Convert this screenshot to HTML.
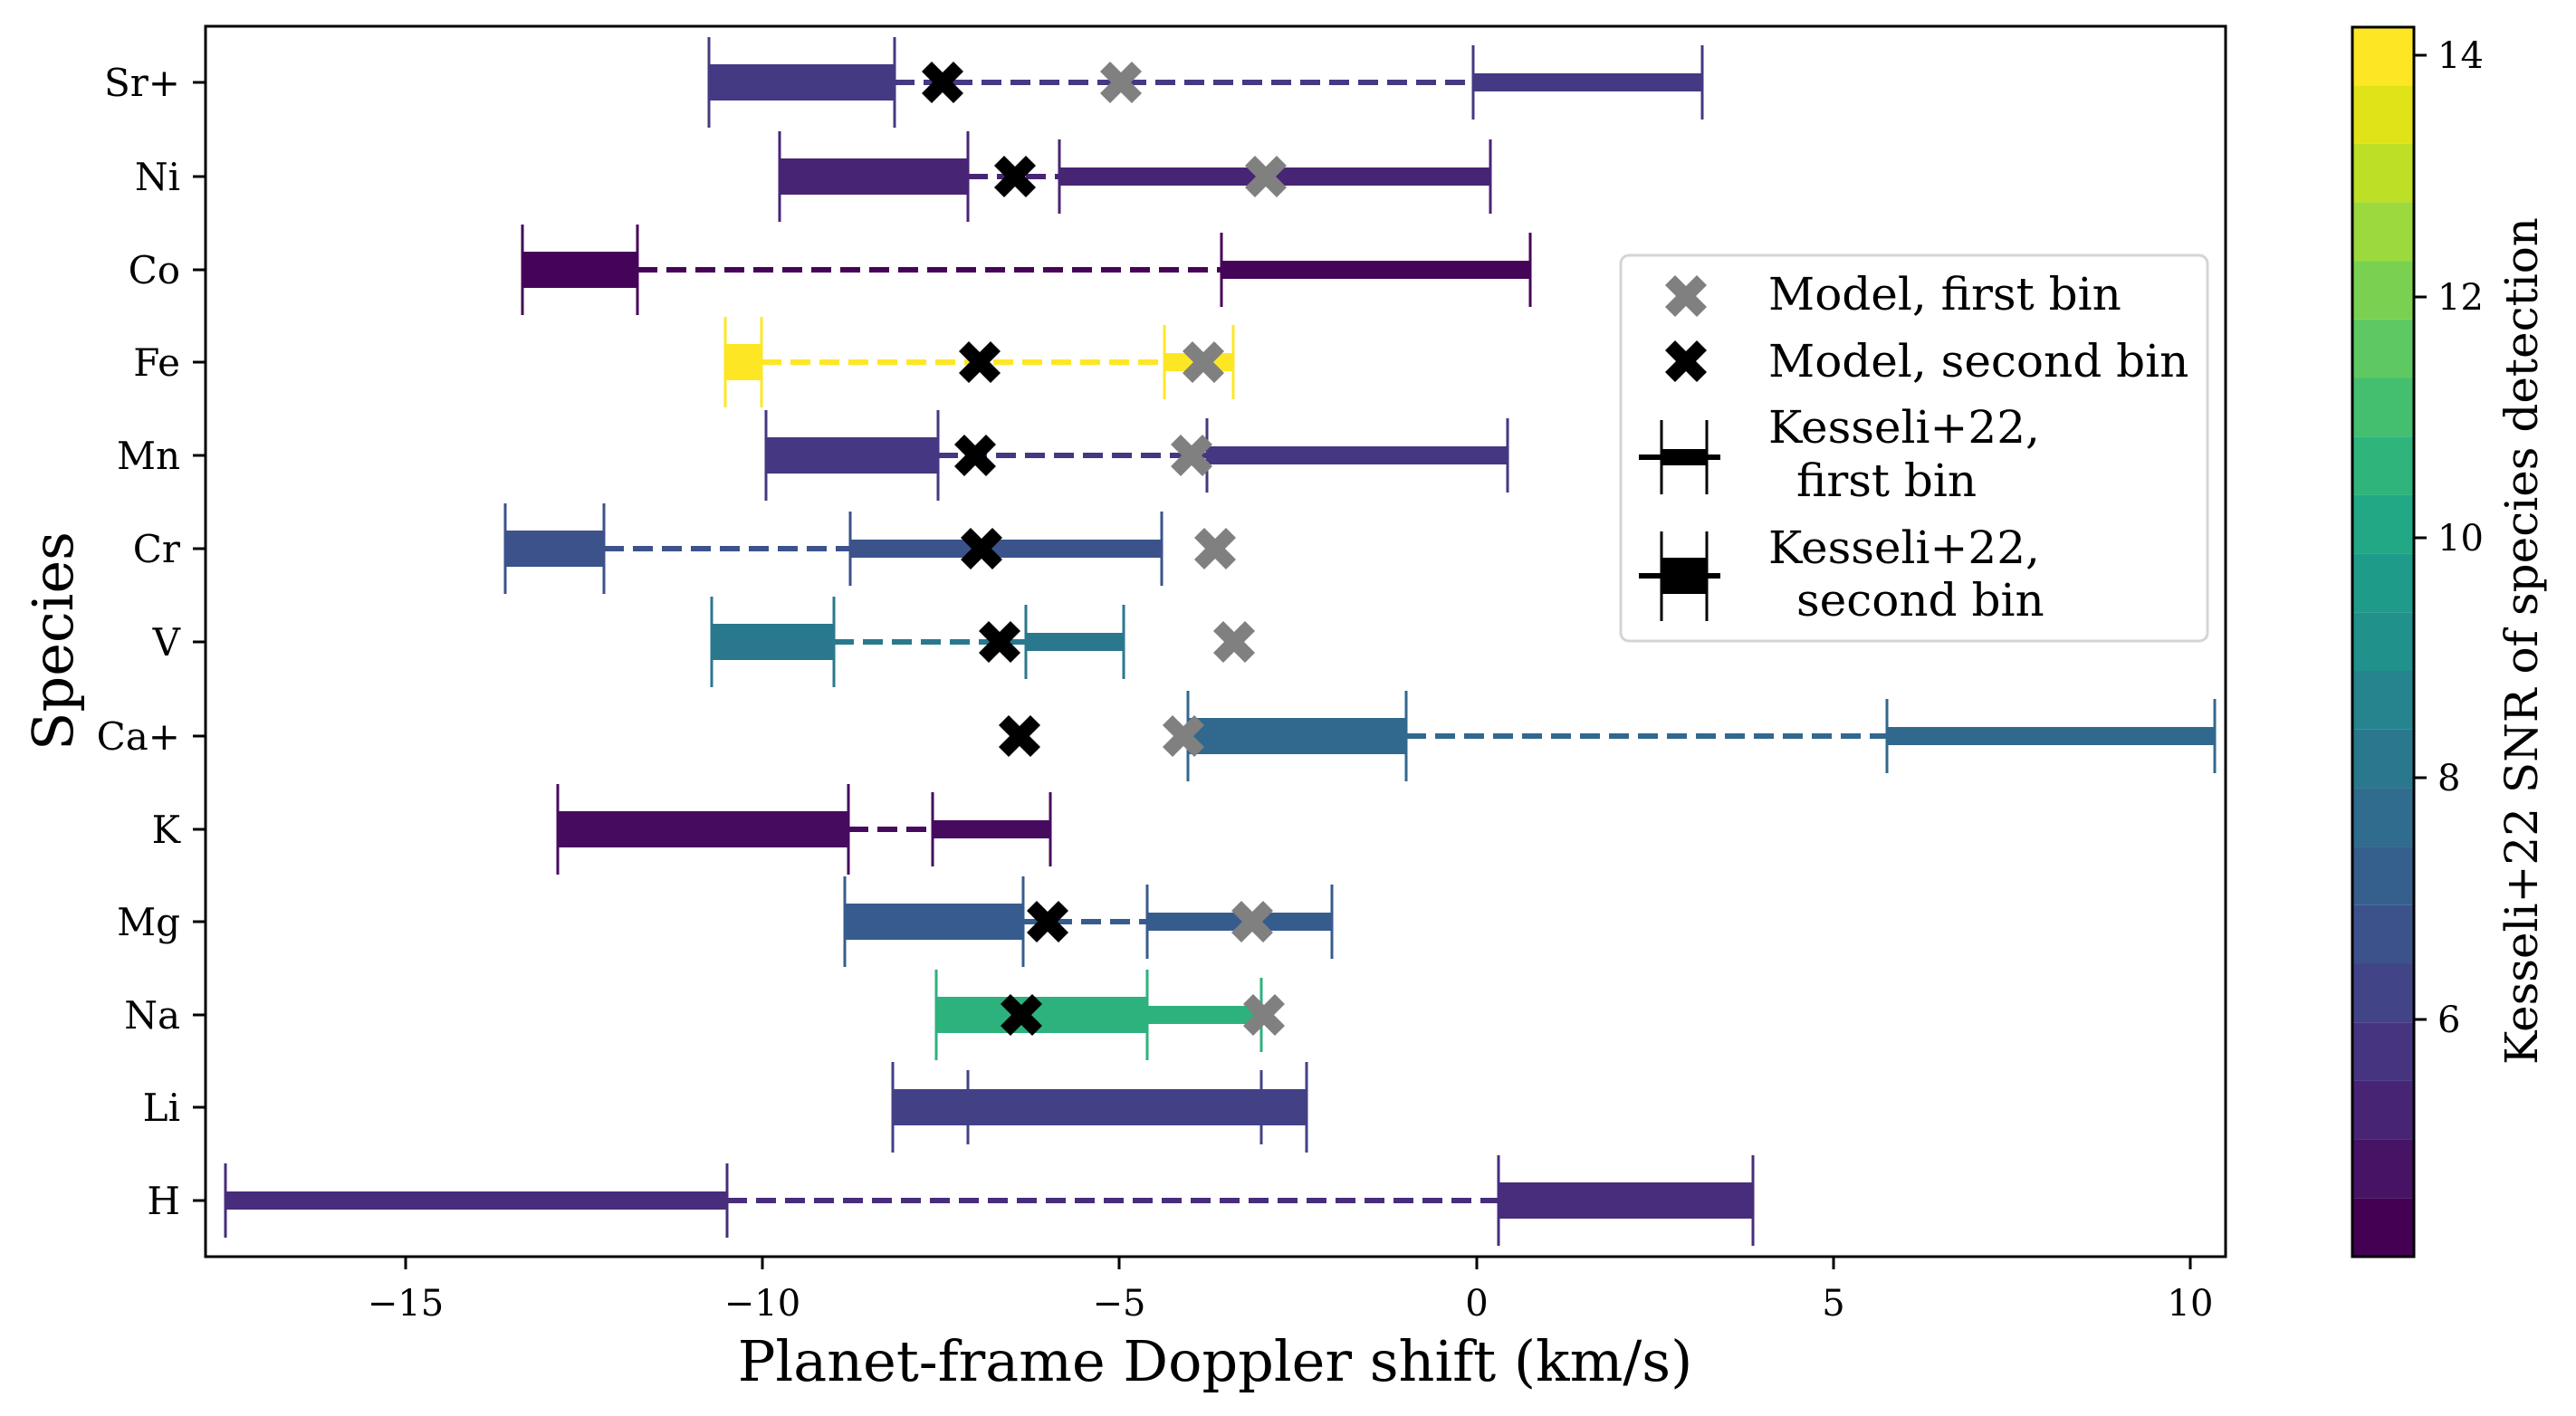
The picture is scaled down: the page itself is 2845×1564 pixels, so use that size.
<!DOCTYPE html>
<html><head><meta charset="utf-8"><style>
html,body{margin:0;padding:0;background:#fff;}
svg{display:block;}
text{font-family:"DejaVu Serif","Liberation Serif",serif;fill:#000;}
</style></head><body>
<svg width="2845" height="1564" viewBox="0 0 2845 1564" xmlns="http://www.w3.org/2000/svg">
<defs>
<path id="X" d="M-23,-12 L-12,-23 L0,-11 L12,-23 L23,-12 L11,0 L23,12 L12,23 L0,11 L-12,23 L-23,12 L-11,0 Z"/>
</defs>
<rect width="2845" height="1564" fill="#fff"/>

<g stroke-width="6" stroke-dasharray="22 10" fill="none">
<line x1="988" y1="91" x2="1627" y2="91" stroke="#443983"/>
<line x1="1069" y1="195" x2="1170" y2="195" stroke="#482475"/>
<line x1="704" y1="298" x2="1349" y2="298" stroke="#450457"/>
<line x1="841" y1="400" x2="1286" y2="400" stroke="#fde725"/>
<line x1="1036" y1="503" x2="1333" y2="503" stroke="#453781"/>
<line x1="667" y1="606" x2="939" y2="606" stroke="#3b528b"/>
<line x1="921" y1="709" x2="1133" y2="709" stroke="#2a788e"/>
<line x1="1553" y1="813" x2="2084" y2="813" stroke="#31688e"/>
<line x1="937" y1="916" x2="1030" y2="916" stroke="#460b5e"/>
<line x1="1130" y1="1018" x2="1267" y2="1018" stroke="#365c8d"/>
<line x1="803" y1="1326" x2="1655" y2="1326" stroke="#472d7b"/>
</g>

<g stroke-width="3">
<g fill="#443983" stroke="#443983">
<rect x="783" y="71" width="205" height="40" stroke="none"/><line x1="783" y1="41" x2="783" y2="141"/><line x1="988" y1="41" x2="988" y2="141"/>
<rect x="1627" y="81" width="253" height="20" stroke="none"/><line x1="1627" y1="50" x2="1627" y2="132"/><line x1="1880" y1="50" x2="1880" y2="132"/>
</g>
<g fill="#482475" stroke="#482475">
<rect x="861" y="175" width="208" height="40" stroke="none"/><line x1="861" y1="145" x2="861" y2="245"/><line x1="1069" y1="145" x2="1069" y2="245"/>
<rect x="1170" y="185" width="476" height="20" stroke="none"/><line x1="1170" y1="154" x2="1170" y2="236"/><line x1="1646" y1="154" x2="1646" y2="236"/>
</g>
<g fill="#450457" stroke="#450457">
<rect x="577" y="278" width="127" height="40" stroke="none"/><line x1="577" y1="248" x2="577" y2="348"/><line x1="704" y1="248" x2="704" y2="348"/>
<rect x="1349" y="288" width="341" height="20" stroke="none"/><line x1="1349" y1="257" x2="1349" y2="339"/><line x1="1690" y1="257" x2="1690" y2="339"/>
</g>
<g fill="#fde725" stroke="#fde725">
<rect x="801" y="380" width="40" height="40" stroke="none"/><line x1="801" y1="350" x2="801" y2="450"/><line x1="841" y1="350" x2="841" y2="450"/>
<rect x="1286" y="390" width="76" height="20" stroke="none"/><line x1="1286" y1="359" x2="1286" y2="441"/><line x1="1362" y1="359" x2="1362" y2="441"/>
</g>
<g fill="#453781" stroke="#453781">
<rect x="846" y="483" width="190" height="40" stroke="none"/><line x1="846" y1="453" x2="846" y2="553"/><line x1="1036" y1="453" x2="1036" y2="553"/>
<rect x="1333" y="493" width="332" height="20" stroke="none"/><line x1="1333" y1="462" x2="1333" y2="544"/><line x1="1665" y1="462" x2="1665" y2="544"/>
</g>
<g fill="#3b528b" stroke="#3b528b">
<rect x="558" y="586" width="109" height="40" stroke="none"/><line x1="558" y1="556" x2="558" y2="656"/><line x1="667" y1="556" x2="667" y2="656"/>
<rect x="939" y="596" width="344" height="20" stroke="none"/><line x1="939" y1="565" x2="939" y2="647"/><line x1="1283" y1="565" x2="1283" y2="647"/>
</g>
<g fill="#2a788e" stroke="#2a788e">
<rect x="786" y="689" width="135" height="40" stroke="none"/><line x1="786" y1="659" x2="786" y2="759"/><line x1="921" y1="659" x2="921" y2="759"/>
<rect x="1133" y="699" width="108" height="20" stroke="none"/><line x1="1133" y1="668" x2="1133" y2="750"/><line x1="1241" y1="668" x2="1241" y2="750"/>
</g>
<g fill="#31688e" stroke="#31688e">
<rect x="1312" y="793" width="241" height="40" stroke="none"/><line x1="1312" y1="763" x2="1312" y2="863"/><line x1="1553" y1="763" x2="1553" y2="863"/>
<rect x="2084" y="803" width="362" height="20" stroke="none"/><line x1="2084" y1="772" x2="2084" y2="854"/><line x1="2446" y1="772" x2="2446" y2="854"/>
</g>
<g fill="#460b5e" stroke="#460b5e">
<rect x="616" y="896" width="321" height="40" stroke="none"/><line x1="616" y1="866" x2="616" y2="966"/><line x1="937" y1="866" x2="937" y2="966"/>
<rect x="1030" y="906" width="130" height="20" stroke="none"/><line x1="1030" y1="875" x2="1030" y2="957"/><line x1="1160" y1="875" x2="1160" y2="957"/>
</g>
<g fill="#365c8d" stroke="#365c8d">
<rect x="933" y="998" width="197" height="40" stroke="none"/><line x1="933" y1="968" x2="933" y2="1068"/><line x1="1130" y1="968" x2="1130" y2="1068"/>
<rect x="1267" y="1008" width="204" height="20" stroke="none"/><line x1="1267" y1="977" x2="1267" y2="1059"/><line x1="1471" y1="977" x2="1471" y2="1059"/>
</g>
<g fill="#2db27d" stroke="#2db27d">
<rect x="1034" y="1101" width="233" height="40" stroke="none"/><line x1="1034" y1="1071" x2="1034" y2="1171"/><line x1="1267" y1="1071" x2="1267" y2="1171"/>
<rect x="1267" y="1111" width="126" height="20" stroke="none"/><line x1="1393" y1="1080" x2="1393" y2="1162"/>
</g>
<g fill="#424186" stroke="#424186">
<rect x="986" y="1203" width="457" height="40" stroke="none"/><line x1="986" y1="1173" x2="986" y2="1273"/><line x1="1443" y1="1173" x2="1443" y2="1273"/>
<line x1="1069" y1="1182" x2="1069" y2="1264"/><line x1="1393" y1="1182" x2="1393" y2="1264"/>
</g>
<g fill="#472d7b" stroke="#472d7b">
<rect x="249" y="1316" width="554" height="20" stroke="none"/><line x1="249" y1="1285" x2="249" y2="1367"/><line x1="803" y1="1285" x2="803" y2="1367"/>
<rect x="1655" y="1306" width="281" height="40" stroke="none"/><line x1="1655" y1="1276" x2="1655" y2="1376"/><line x1="1936" y1="1276" x2="1936" y2="1376"/>
</g>
</g>

<g fill="#808080">
<use href="#X" x="1238" y="91"/><use href="#X" x="1398" y="195"/><use href="#X" x="1329" y="400"/>
<use href="#X" x="1316" y="503"/><use href="#X" x="1342" y="606"/><use href="#X" x="1363" y="709"/>
<use href="#X" x="1307" y="813"/><use href="#X" x="1383" y="1018"/><use href="#X" x="1396" y="1121"/>
</g>
<g fill="#000">
<use href="#X" x="1041" y="91"/><use href="#X" x="1121" y="195"/><use href="#X" x="1082" y="400"/>
<use href="#X" x="1077" y="503"/><use href="#X" x="1084" y="606"/><use href="#X" x="1104" y="709"/>
<use href="#X" x="1126" y="813"/><use href="#X" x="1157" y="1018"/><use href="#X" x="1128" y="1121"/>
</g>

<rect x="227" y="29" width="2231" height="1359" fill="none" stroke="#000" stroke-width="3"/>

<g stroke="#000" stroke-width="3">
<line x1="213" y1="91" x2="227" y2="91"/><line x1="213" y1="195" x2="227" y2="195"/><line x1="213" y1="298" x2="227" y2="298"/>
<line x1="213" y1="400" x2="227" y2="400"/><line x1="213" y1="503" x2="227" y2="503"/><line x1="213" y1="606" x2="227" y2="606"/>
<line x1="213" y1="709" x2="227" y2="709"/><line x1="213" y1="813" x2="227" y2="813"/><line x1="213" y1="916" x2="227" y2="916"/>
<line x1="213" y1="1018" x2="227" y2="1018"/><line x1="213" y1="1121" x2="227" y2="1121"/><line x1="213" y1="1223" x2="227" y2="1223"/>
<line x1="213" y1="1326" x2="227" y2="1326"/>
<line x1="448" y1="1388" x2="448" y2="1402"/><line x1="842" y1="1388" x2="842" y2="1402"/><line x1="1236" y1="1388" x2="1236" y2="1402"/>
<line x1="1631" y1="1388" x2="1631" y2="1402"/><line x1="2025" y1="1388" x2="2025" y2="1402"/><line x1="2419" y1="1388" x2="2419" y2="1402"/>
</g>
<g font-size="42" text-anchor="end">
<text x="199" y="106">Sr+</text><text x="199" y="210">Ni</text><text x="199" y="313">Co</text>
<text x="199" y="415">Fe</text><text x="199" y="518">Mn</text><text x="199" y="621">Cr</text>
<text x="199" y="724">V</text><text x="199" y="828">Ca+</text><text x="199" y="931">K</text>
<text x="199" y="1033">Mg</text><text x="199" y="1136">Na</text><text x="199" y="1238">Li</text>
<text x="199" y="1341">H</text>
</g>
<g font-size="40" text-anchor="middle">
<text x="448" y="1453">−15</text><text x="842" y="1453">−10</text><text x="1236" y="1453">−5</text>
<text x="1631" y="1453">0</text><text x="2025" y="1453">5</text><text x="2419" y="1453">10</text>
</g>
<text x="1342" y="1525" font-size="62" text-anchor="middle">Planet-frame Doppler shift (km/s)</text>
<text transform="translate(80,708) rotate(-90)" font-size="62" text-anchor="middle">Species</text>

<rect x="1790" y="282" width="648" height="426" rx="9" fill="#fff" fill-opacity="0.8" stroke="#d4d4d4" stroke-width="3"/>
<use href="#X" x="1862" y="327" fill="#808080"/>
<use href="#X" x="1862" y="399" fill="#000"/>
<g stroke="#000" fill="#000">
<line x1="1810" y1="505" x2="1900" y2="505" stroke-width="6"/>
<rect x="1835" y="496" width="50" height="18" stroke="none"/>
<line x1="1835" y1="464" x2="1835" y2="546" stroke-width="3"/><line x1="1885" y1="464" x2="1885" y2="546" stroke-width="3"/>
<line x1="1810" y1="636" x2="1900" y2="636" stroke-width="6"/>
<rect x="1835" y="616" width="50" height="40" stroke="none"/>
<line x1="1835" y1="587" x2="1835" y2="686" stroke-width="3"/><line x1="1885" y1="587" x2="1885" y2="686" stroke-width="3"/>
</g>
<g font-size="50">
<text x="1953" y="342">Model, first bin</text>
<text x="1953" y="416">Model, second bin</text>
<text x="1953" y="489">Kesseli+22,</text>
<text x="1984" y="548">first bin</text>
<text x="1953" y="622">Kesseli+22,</text>
<text x="1984" y="680">second bin</text>
</g>

<g>
<rect x="2598" y="1323.3" width="68" height="64.7" fill="#440154"/>
<rect x="2598" y="1258.6" width="68" height="64.7" fill="#471365"/>
<rect x="2598" y="1193.9" width="68" height="64.7" fill="#482475"/>
<rect x="2598" y="1129.2" width="68" height="64.7" fill="#463480"/>
<rect x="2598" y="1064.5" width="68" height="64.7" fill="#414487"/>
<rect x="2598" y="999.8" width="68" height="64.7" fill="#3b528b"/>
<rect x="2598" y="935.1" width="68" height="64.7" fill="#355f8d"/>
<rect x="2598" y="870.4" width="68" height="64.7" fill="#2f6c8e"/>
<rect x="2598" y="805.7" width="68" height="64.7" fill="#2a788e"/>
<rect x="2598" y="741.0" width="68" height="64.7" fill="#25848e"/>
<rect x="2598" y="676.3" width="68" height="64.7" fill="#21918c"/>
<rect x="2598" y="611.6" width="68" height="64.7" fill="#1e9c89"/>
<rect x="2598" y="546.9" width="68" height="64.7" fill="#22a884"/>
<rect x="2598" y="482.2" width="68" height="64.7" fill="#2fb47c"/>
<rect x="2598" y="417.5" width="68" height="64.7" fill="#44bf70"/>
<rect x="2598" y="352.8" width="68" height="64.7" fill="#5ec962"/>
<rect x="2598" y="288.1" width="68" height="64.7" fill="#7ad151"/>
<rect x="2598" y="223.4" width="68" height="64.7" fill="#9bd93c"/>
<rect x="2598" y="158.7" width="68" height="64.7" fill="#bddf26"/>
<rect x="2598" y="94.0" width="68" height="64.7" fill="#dfe318"/>
<rect x="2598" y="30" width="68" height="64.7" fill="#fde725"/>
</g>
<rect x="2598" y="30" width="68" height="1358" fill="none" stroke="#000" stroke-width="3"/>
<g stroke="#000" stroke-width="3">
<line x1="2666" y1="61" x2="2680" y2="61"/><line x1="2666" y1="328" x2="2680" y2="328"/>
<line x1="2666" y1="594" x2="2680" y2="594"/><line x1="2666" y1="859" x2="2680" y2="859"/>
<line x1="2666" y1="1126" x2="2680" y2="1126"/>
</g>
<g font-size="40">
<text x="2692" y="75">14</text><text x="2692" y="342">12</text><text x="2692" y="608">10</text>
<text x="2692" y="873">8</text><text x="2692" y="1140">6</text>
</g>
<text transform="translate(2802,708) rotate(-90)" font-size="50" text-anchor="middle">Kesseli+22 SNR of species detection</text>
</svg>
</body></html>
